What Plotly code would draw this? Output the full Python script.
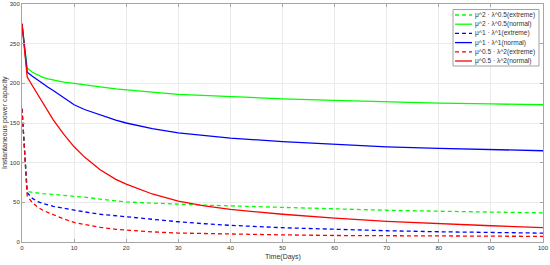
import plotly.graph_objects as go

days = [0, 1, 2, 3, 4, 5, 6, 8, 10, 12, 15, 18, 20, 25, 30, 35, 40, 50, 60, 70, 80, 90, 100]

green_extreme = [168, 64, 62.5, 61.5, 61, 60.5, 60, 59, 58, 56.5, 54, 51.5, 50.5, 49, 47.5, 46.5,
                 45.5, 43.5, 41.5, 40, 38.8, 37.7, 36.7]
green_normal = [275, 219, 214, 210.5, 207.5, 205.5, 204, 201.5, 200, 198.5, 195.5, 193, 192, 189, 186,
                184.5, 183, 180.5, 178.5, 176.5, 175, 174, 173]
blue_extreme = [168, 62, 55, 51, 48.5, 46.5, 45, 42.5, 40, 38, 35, 33, 31.7, 28.5, 25.5, 23,
                21, 18, 15.8, 14.2, 12.9, 12, 11.2]
blue_normal = [275, 214, 209, 204, 199.5, 195, 191, 181.5, 173, 167, 160, 153.5, 150, 143, 137.5,
               134, 131, 126.5, 123, 120, 118, 116.5, 115]
red_extreme = [168, 58, 49.5, 44, 40, 37, 34, 29, 24.6, 22, 18.5, 16, 15, 12.8, 11.3, 10.6,
               10, 9, 8.2, 7.8, 7.5, 7.3, 7.1]
red_normal = [275, 208, 197, 186, 175, 164, 154, 136, 120, 107, 91, 79, 73, 60.5, 51.5, 45.5,
              41, 35, 30, 26, 23, 20.5, 18]

series = [
    ("μ^2 · λ^0.5(extreme)", green_extreme, "#00ff00", "4px,3px"),
    ("μ^2 · λ^0.5(normal)", green_normal, "#00ff00", "solid"),
    ("μ^1 · λ^1(extreme)", blue_extreme, "#0000ff", "4px,3px"),
    ("μ^1 · λ^1(normal)", blue_normal, "#0000ff", "solid"),
    ("μ^0.5 · λ^2(extreme)", red_extreme, "#ff0000", "4px,3px"),
    ("μ^0.5 · λ^2(normal)", red_normal, "#ff0000", "solid"),
]

W, H = 550, 265
L, R, T, B = 22, 7, 4, 23
PW, PH = W - L - R, H - T - B
TXT = "#333333"
AXC = "#a6a6a6"


def px(x):
    return (x - L) / PW


def py(y):
    return (H - B - y) / PH


fig = go.Figure()
for name, vals, color, dash in series:
    fig.add_trace(go.Scatter(
        x=days, y=vals, name=name, mode="lines", showlegend=False,
        line=dict(color=color, width=1.3, dash=dash),
    ))

# MATLAB-style compact legend drawn by hand
fig.add_shape(type="rect", xref="paper", yref="paper",
              x0=px(453), x1=px(539), y0=py(66), y1=py(9.5),
              fillcolor="white", line=dict(color="#8c8c8c", width=0.8), layer="above")
for i, (name, vals, color, dash) in enumerate(series):
    yy = py(15 + i * 9.2)
    fig.add_shape(type="line", xref="paper", yref="paper",
                  x0=px(455), x1=px(472), y0=yy, y1=yy,
                  line=dict(color=color, width=1.3, dash=dash), layer="above")
    fig.add_annotation(text=name, xref="paper", yref="paper", x=px(473), y=yy,
                       xanchor="left", yanchor="middle", showarrow=False,
                       font=dict(size=6.6, color=TXT))

axis_style = dict(
    showgrid=True, gridcolor="#ebebeb", gridwidth=1,
    showline=True, linecolor=AXC, linewidth=1, mirror="ticks",
    ticks="inside", ticklen=3, tickcolor=AXC,
    tickfont=dict(size=6, color=TXT), ticklabeloverflow="allow",
    zeroline=False, automargin=False,
)

fig.update_xaxes(range=[0, 100], dtick=10, **axis_style)
fig.update_yaxes(range=[0, 300], dtick=50, **axis_style)

fig.add_annotation(text="Time(Days)", xref="paper", yref="paper", x=0.5, y=py(257),
                   xanchor="center", yanchor="middle", showarrow=False,
                   font=dict(size=7, color=TXT))
fig.add_annotation(text="Instantaneous power capacity", xref="paper", yref="paper",
                   x=px(5), y=0.5, textangle=-90, xanchor="center", yanchor="middle",
                   showarrow=False, font=dict(size=7, color=TXT))

fig.update_layout(
    width=W, height=H,
    margin=dict(l=L, r=R, t=T, b=B),
    paper_bgcolor="white", plot_bgcolor="white",
    font=dict(family="Liberation Sans, Arial, sans-serif", size=7, color=TXT),
)

# drop the browser's default body margin so the figure fills the window
fig.write_html("out.html", config={"displayModeBar": False},
               post_script="document.body.style.margin='0';")
